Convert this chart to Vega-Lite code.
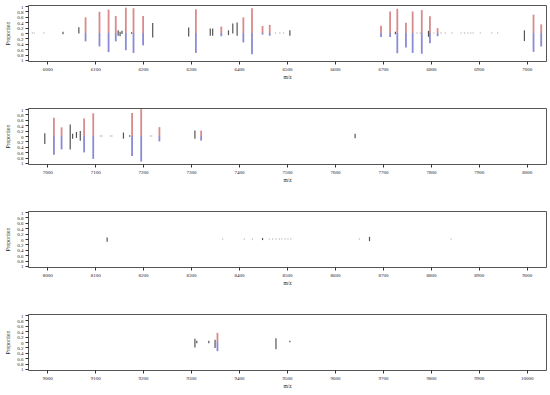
{
  "$schema": "https://vega.github.io/schema/vega-lite/v6.json",
  "padding": {"top": 3, "left": 5, "right": 2, "bottom": 0},
  "background": "white",
  "spacing": 26,
  "datasets": {
    "peaks": [
      {"mz": 5969, "up": 0.02, "lo": -0.02, "k": "d"},
      {"mz": 5973, "up": 0.02, "lo": -0.02, "k": "d"},
      {"mz": 5993, "up": 0.02, "lo": -0.02, "k": "d"},
      {"mz": 6033, "up": 0.05, "lo": -0.05, "k": "k"},
      {"mz": 6066, "up": 0.21, "lo": -0.02, "k": "k"},
      {"mz": 6080, "up": 0.58, "lo": -0.31, "k": "c"},
      {"mz": 6109, "up": 0.79, "lo": -0.5, "k": "c"},
      {"mz": 6128, "up": 0.87, "lo": -0.71, "k": "c"},
      {"mz": 6143, "up": 0.63, "lo": -0.31, "k": "c"},
      {"mz": 6148, "up": 0.1, "lo": -0.1, "k": "k"},
      {"mz": 6152, "up": 0.05, "lo": -0.12, "k": "k"},
      {"mz": 6156, "up": 0.08, "lo": -0.04, "k": "k"},
      {"mz": 6164, "up": 0.94, "lo": -0.64, "k": "c"},
      {"mz": 6176, "up": 0.03, "lo": -0.03, "k": "k"},
      {"mz": 6180, "up": 0.92, "lo": -0.74, "k": "c"},
      {"mz": 6200, "up": 0.63, "lo": -0.46, "k": "c"},
      {"mz": 6220, "up": 0.37, "lo": -0.17, "k": "k"},
      {"mz": 6295, "up": 0.2, "lo": -0.13, "k": "k"},
      {"mz": 6310, "up": 0.88, "lo": -0.74, "k": "c"},
      {"mz": 6340, "up": 0.17, "lo": -0.1, "k": "k"},
      {"mz": 6345, "up": 0.17, "lo": -0.1, "k": "k"},
      {"mz": 6363, "up": 0.24, "lo": -0.12, "k": "c"},
      {"mz": 6378, "up": 0.1, "lo": -0.08, "k": "k"},
      {"mz": 6387, "up": 0.35, "lo": -0.02, "k": "k"},
      {"mz": 6396, "up": 0.39, "lo": -0.1, "k": "k"},
      {"mz": 6409, "up": 0.58, "lo": -0.35, "k": "c"},
      {"mz": 6427, "up": 0.92, "lo": -0.79, "k": "c"},
      {"mz": 6449, "up": 0.26, "lo": -0.06, "k": "c"},
      {"mz": 6464, "up": 0.3, "lo": -0.1, "k": "c"},
      {"mz": 6476, "up": 0.02, "lo": -0.02, "k": "d"},
      {"mz": 6485, "up": 0.02, "lo": -0.02, "k": "d"},
      {"mz": 6493, "up": 0.02, "lo": -0.02, "k": "d"},
      {"mz": 6506, "up": 0.1, "lo": -0.1, "k": "k"},
      {"mz": 6696, "up": 0.27, "lo": -0.15, "k": "c"},
      {"mz": 6715, "up": 0.8, "lo": -0.15, "k": "c"},
      {"mz": 6726, "up": 0.05, "lo": -0.05, "k": "k"},
      {"mz": 6730, "up": 0.9, "lo": -0.75, "k": "c"},
      {"mz": 6748, "up": 0.38, "lo": -0.54, "k": "c"},
      {"mz": 6762, "up": 0.8, "lo": -0.74, "k": "c"},
      {"mz": 6771, "up": 0.02, "lo": -0.02, "k": "d"},
      {"mz": 6778, "up": 0.02, "lo": -0.02, "k": "d"},
      {"mz": 6781, "up": 0.85, "lo": -0.77, "k": "c"},
      {"mz": 6795, "up": 0.08, "lo": -0.14, "k": "k"},
      {"mz": 6798, "up": 0.62, "lo": -0.38, "k": "c"},
      {"mz": 6806, "up": 0.02, "lo": -0.02, "k": "d"},
      {"mz": 6814, "up": 0.18, "lo": -0.12, "k": "c"},
      {"mz": 6821, "up": 0.02, "lo": -0.02, "k": "d"},
      {"mz": 6830, "up": 0.02, "lo": -0.02, "k": "d"},
      {"mz": 6844, "up": 0.02, "lo": -0.02, "k": "d"},
      {"mz": 6863, "up": 0.02, "lo": -0.02, "k": "d"},
      {"mz": 6870, "up": 0.02, "lo": -0.02, "k": "d"},
      {"mz": 6877, "up": 0.02, "lo": -0.02, "k": "d"},
      {"mz": 6883, "up": 0.02, "lo": -0.02, "k": "d"},
      {"mz": 6888, "up": 0.02, "lo": -0.02, "k": "d"},
      {"mz": 6903, "up": 0.02, "lo": -0.02, "k": "d"},
      {"mz": 6927, "up": 0.02, "lo": -0.02, "k": "d"},
      {"mz": 6939, "up": 0.02, "lo": -0.02, "k": "d"},
      {"mz": 6995, "up": 0.1, "lo": -0.3, "k": "k"},
      {"mz": 7014, "up": 0.68, "lo": -0.7, "k": "c"},
      {"mz": 7030, "up": 0.32, "lo": -0.5, "k": "c"},
      {"mz": 7048, "up": 0.43, "lo": -0.5, "k": "k"},
      {"mz": 7053, "up": 0.08, "lo": -0.1, "k": "k"},
      {"mz": 7061, "up": 0.15, "lo": -0.07, "k": "k"},
      {"mz": 7069, "up": 0.19, "lo": -0.18, "k": "k"},
      {"mz": 7077, "up": 0.65, "lo": -0.61, "k": "c"},
      {"mz": 7096, "up": 0.84, "lo": -0.85, "k": "c"},
      {"mz": 7111, "up": 0.02, "lo": -0.02, "k": "d"},
      {"mz": 7114, "up": 0.02, "lo": -0.02, "k": "d"},
      {"mz": 7132, "up": 0.02, "lo": -0.02, "k": "d"},
      {"mz": 7135, "up": 0.02, "lo": -0.02, "k": "d"},
      {"mz": 7159, "up": 0.13, "lo": -0.1, "k": "k"},
      {"mz": 7172, "up": 0.03, "lo": -0.03, "k": "k"},
      {"mz": 7177, "up": 0.85, "lo": -0.74, "k": "c"},
      {"mz": 7196, "up": 1.0, "lo": -0.95, "k": "c"},
      {"mz": 7215, "up": 0.02, "lo": -0.02, "k": "d"},
      {"mz": 7218, "up": 0.02, "lo": -0.02, "k": "d"},
      {"mz": 7234, "up": 0.33, "lo": -0.2, "k": "c"},
      {"mz": 7308, "up": 0.2, "lo": -0.1, "k": "k"},
      {"mz": 7321, "up": 0.2, "lo": -0.17, "k": "c"},
      {"mz": 7642, "up": 0.08, "lo": -0.08, "k": "k"},
      {"mz": 8125, "up": 0.06, "lo": -0.1, "k": "k"},
      {"mz": 8366, "up": 0.02, "lo": -0.02, "k": "d"},
      {"mz": 8411, "up": 0.02, "lo": -0.02, "k": "d"},
      {"mz": 8428, "up": 0.02, "lo": -0.02, "k": "d"},
      {"mz": 8449, "up": 0.04, "lo": -0.04, "k": "k"},
      {"mz": 8463, "up": 0.02, "lo": -0.02, "k": "d"},
      {"mz": 8470, "up": 0.02, "lo": -0.02, "k": "d"},
      {"mz": 8477, "up": 0.02, "lo": -0.02, "k": "d"},
      {"mz": 8484, "up": 0.02, "lo": -0.02, "k": "d"},
      {"mz": 8489, "up": 0.02, "lo": -0.02, "k": "d"},
      {"mz": 8496, "up": 0.02, "lo": -0.02, "k": "d"},
      {"mz": 8502, "up": 0.02, "lo": -0.02, "k": "d"},
      {"mz": 8508, "up": 0.02, "lo": -0.02, "k": "d"},
      {"mz": 8651, "up": 0.02, "lo": -0.02, "k": "d"},
      {"mz": 8672, "up": 0.08, "lo": -0.08, "k": "k"},
      {"mz": 8842, "up": 0.02, "lo": -0.02, "k": "d"},
      {"mz": 9308, "up": 0.12, "lo": -0.2, "k": "k"},
      {"mz": 9312, "up": 0.05, "lo": -0.05, "k": "k"},
      {"mz": 9337, "up": 0.05, "lo": -0.05, "k": "k"},
      {"mz": 9350, "up": 0.08, "lo": -0.22, "k": "k"},
      {"mz": 9355, "up": 0.34, "lo": -0.34, "k": "c"},
      {"mz": 9477, "up": 0.14, "lo": -0.27, "k": "k"},
      {"mz": 9506, "up": 0.05, "lo": -0.01, "k": "k"}
    ]
  },
  "vconcat": [
    {
      "width": 518, "height": 56,
      "data": {"name": "peaks"},
      "encoding": {"x": {"field": "mz", "type": "quantitative", "scale": {"domain": [5960, 7040], "nice": false, "zero": false}, "axis": {"values": [6000, 6100, 6200, 6300, 6400, 6500, 6600, 6700, 6800, 6900, 7000], "format": "d", "title": "m/z", "grid": false}}},
      "layer": [
        {"transform": [{"filter": "datum.k == 'c'"}], "mark": {"type": "rule", "clip": true, "color": "#d98a8a", "strokeWidth": 1.8}, "encoding": {"y": {"field": "up", "type": "quantitative", "scale": {"domain": [-1.04, 1.04], "nice": false}, "title": "Proportion", "axis": {"values": [-1, -0.8, -0.6, -0.4, -0.2, 0, 0.2, 0.4, 0.6, 0.8, 1], "labelExpr": "format(abs(datum.value), '.1~f')", "grid": false, "labelOverlap": false}}, "y2": {"datum": 0}}},
        {"transform": [{"filter": "datum.k == 'c'"}], "mark": {"type": "rule", "clip": true, "color": "#8a8ad6", "strokeWidth": 1.8}, "encoding": {"y": {"field": "lo", "type": "quantitative", "scale": {"domain": [-1.04, 1.04], "nice": false}, "title": "Proportion", "axis": {"values": [-1, -0.8, -0.6, -0.4, -0.2, 0, 0.2, 0.4, 0.6, 0.8, 1], "labelExpr": "format(abs(datum.value), '.1~f')", "grid": false, "labelOverlap": false}}, "y2": {"datum": 0}}},
        {"transform": [{"filter": "datum.k != 'c'"}], "mark": {"type": "rule", "clip": true, "strokeWidth": 1.2}, "encoding": {"y": {"field": "up", "type": "quantitative", "scale": {"domain": [-1.04, 1.04], "nice": false}, "title": "Proportion", "axis": {"values": [-1, -0.8, -0.6, -0.4, -0.2, 0, 0.2, 0.4, 0.6, 0.8, 1], "labelExpr": "format(abs(datum.value), '.1~f')", "grid": false, "labelOverlap": false}}, "y2": {"field": "lo"}, "color": {"field": "k", "type": "nominal", "scale": {"domain": ["k", "d"], "range": ["#555555", "#aaaaaa"]}, "legend": null}}}
      ]
    },
    {
      "width": 518, "height": 56,
      "data": {"name": "peaks"},
      "encoding": {"x": {"field": "mz", "type": "quantitative", "scale": {"domain": [6960, 8040], "nice": false, "zero": false}, "axis": {"values": [7000, 7100, 7200, 7300, 7400, 7500, 7600, 7700, 7800, 7900, 8000], "format": "d", "title": "m/z", "grid": false}}},
      "layer": [
        {"transform": [{"filter": "datum.k == 'c'"}], "mark": {"type": "rule", "clip": true, "color": "#d98a8a", "strokeWidth": 1.8}, "encoding": {"y": {"field": "up", "type": "quantitative", "scale": {"domain": [-1.04, 1.04], "nice": false}, "title": "Proportion", "axis": {"values": [-1, -0.8, -0.6, -0.4, -0.2, 0, 0.2, 0.4, 0.6, 0.8, 1], "labelExpr": "format(abs(datum.value), '.1~f')", "grid": false, "labelOverlap": false}}, "y2": {"datum": 0}}},
        {"transform": [{"filter": "datum.k == 'c'"}], "mark": {"type": "rule", "clip": true, "color": "#8a8ad6", "strokeWidth": 1.8}, "encoding": {"y": {"field": "lo", "type": "quantitative", "scale": {"domain": [-1.04, 1.04], "nice": false}, "title": "Proportion", "axis": {"values": [-1, -0.8, -0.6, -0.4, -0.2, 0, 0.2, 0.4, 0.6, 0.8, 1], "labelExpr": "format(abs(datum.value), '.1~f')", "grid": false, "labelOverlap": false}}, "y2": {"datum": 0}}},
        {"transform": [{"filter": "datum.k != 'c'"}], "mark": {"type": "rule", "clip": true, "strokeWidth": 1.2}, "encoding": {"y": {"field": "up", "type": "quantitative", "scale": {"domain": [-1.04, 1.04], "nice": false}, "title": "Proportion", "axis": {"values": [-1, -0.8, -0.6, -0.4, -0.2, 0, 0.2, 0.4, 0.6, 0.8, 1], "labelExpr": "format(abs(datum.value), '.1~f')", "grid": false, "labelOverlap": false}}, "y2": {"field": "lo"}, "color": {"field": "k", "type": "nominal", "scale": {"domain": ["k", "d"], "range": ["#555555", "#aaaaaa"]}, "legend": null}}}
      ]
    },
    {
      "width": 518, "height": 56,
      "data": {"name": "peaks"},
      "encoding": {"x": {"field": "mz", "type": "quantitative", "scale": {"domain": [7960, 9040], "nice": false, "zero": false}, "axis": {"values": [8000, 8100, 8200, 8300, 8400, 8500, 8600, 8700, 8800, 8900, 9000], "format": "d", "title": "m/z", "grid": false}}},
      "layer": [
        {"transform": [{"filter": "datum.k == 'c'"}], "mark": {"type": "rule", "clip": true, "color": "#d98a8a", "strokeWidth": 1.8}, "encoding": {"y": {"field": "up", "type": "quantitative", "scale": {"domain": [-1.04, 1.04], "nice": false}, "title": "Proportion", "axis": {"values": [-1, -0.8, -0.6, -0.4, -0.2, 0, 0.2, 0.4, 0.6, 0.8, 1], "labelExpr": "format(abs(datum.value), '.1~f')", "grid": false, "labelOverlap": false}}, "y2": {"datum": 0}}},
        {"transform": [{"filter": "datum.k == 'c'"}], "mark": {"type": "rule", "clip": true, "color": "#8a8ad6", "strokeWidth": 1.8}, "encoding": {"y": {"field": "lo", "type": "quantitative", "scale": {"domain": [-1.04, 1.04], "nice": false}, "title": "Proportion", "axis": {"values": [-1, -0.8, -0.6, -0.4, -0.2, 0, 0.2, 0.4, 0.6, 0.8, 1], "labelExpr": "format(abs(datum.value), '.1~f')", "grid": false, "labelOverlap": false}}, "y2": {"datum": 0}}},
        {"transform": [{"filter": "datum.k != 'c'"}], "mark": {"type": "rule", "clip": true, "strokeWidth": 1.2}, "encoding": {"y": {"field": "up", "type": "quantitative", "scale": {"domain": [-1.04, 1.04], "nice": false}, "title": "Proportion", "axis": {"values": [-1, -0.8, -0.6, -0.4, -0.2, 0, 0.2, 0.4, 0.6, 0.8, 1], "labelExpr": "format(abs(datum.value), '.1~f')", "grid": false, "labelOverlap": false}}, "y2": {"field": "lo"}, "color": {"field": "k", "type": "nominal", "scale": {"domain": ["k", "d"], "range": ["#555555", "#aaaaaa"]}, "legend": null}}}
      ]
    },
    {
      "width": 518, "height": 56,
      "data": {"name": "peaks"},
      "encoding": {"x": {"field": "mz", "type": "quantitative", "scale": {"domain": [8960, 10040], "nice": false, "zero": false}, "axis": {"values": [9000, 9100, 9200, 9300, 9400, 9500, 9600, 9700, 9800, 9900, 10000], "format": "d", "title": "m/z", "grid": false}}},
      "layer": [
        {"transform": [{"filter": "datum.k == 'c'"}], "mark": {"type": "rule", "clip": true, "color": "#d98a8a", "strokeWidth": 1.8}, "encoding": {"y": {"field": "up", "type": "quantitative", "scale": {"domain": [-1.04, 1.04], "nice": false}, "title": "Proportion", "axis": {"values": [-1, -0.8, -0.6, -0.4, -0.2, 0, 0.2, 0.4, 0.6, 0.8, 1], "labelExpr": "format(abs(datum.value), '.1~f')", "grid": false, "labelOverlap": false}}, "y2": {"datum": 0}}},
        {"transform": [{"filter": "datum.k == 'c'"}], "mark": {"type": "rule", "clip": true, "color": "#8a8ad6", "strokeWidth": 1.8}, "encoding": {"y": {"field": "lo", "type": "quantitative", "scale": {"domain": [-1.04, 1.04], "nice": false}, "title": "Proportion", "axis": {"values": [-1, -0.8, -0.6, -0.4, -0.2, 0, 0.2, 0.4, 0.6, 0.8, 1], "labelExpr": "format(abs(datum.value), '.1~f')", "grid": false, "labelOverlap": false}}, "y2": {"datum": 0}}},
        {"transform": [{"filter": "datum.k != 'c'"}], "mark": {"type": "rule", "clip": true, "strokeWidth": 1.2}, "encoding": {"y": {"field": "up", "type": "quantitative", "scale": {"domain": [-1.04, 1.04], "nice": false}, "title": "Proportion", "axis": {"values": [-1, -0.8, -0.6, -0.4, -0.2, 0, 0.2, 0.4, 0.6, 0.8, 1], "labelExpr": "format(abs(datum.value), '.1~f')", "grid": false, "labelOverlap": false}}, "y2": {"field": "lo"}, "color": {"field": "k", "type": "nominal", "scale": {"domain": ["k", "d"], "range": ["#555555", "#aaaaaa"]}, "legend": null}}}
      ]
    }
  ],
  "config": {
    "view": {"stroke": "#555555", "strokeWidth": 1},
    "axis": {"domain": false, "labelFont": "Liberation Serif", "labelFontSize": 5, "titleFont": "Liberation Serif", "titleFontSize": 5.5, "titleFontWeight": "normal", "tickColor": "#333333", "tickSize": 3, "labelColor": "#222222", "titleColor": "#222222", "labelPadding": 2, "labelOverlap": false, "labelFlush": false},
    "axisY": {"titlePadding": 6, "labelAngle": 0},
    "axisX": {"titlePadding": 3}
  }
}
